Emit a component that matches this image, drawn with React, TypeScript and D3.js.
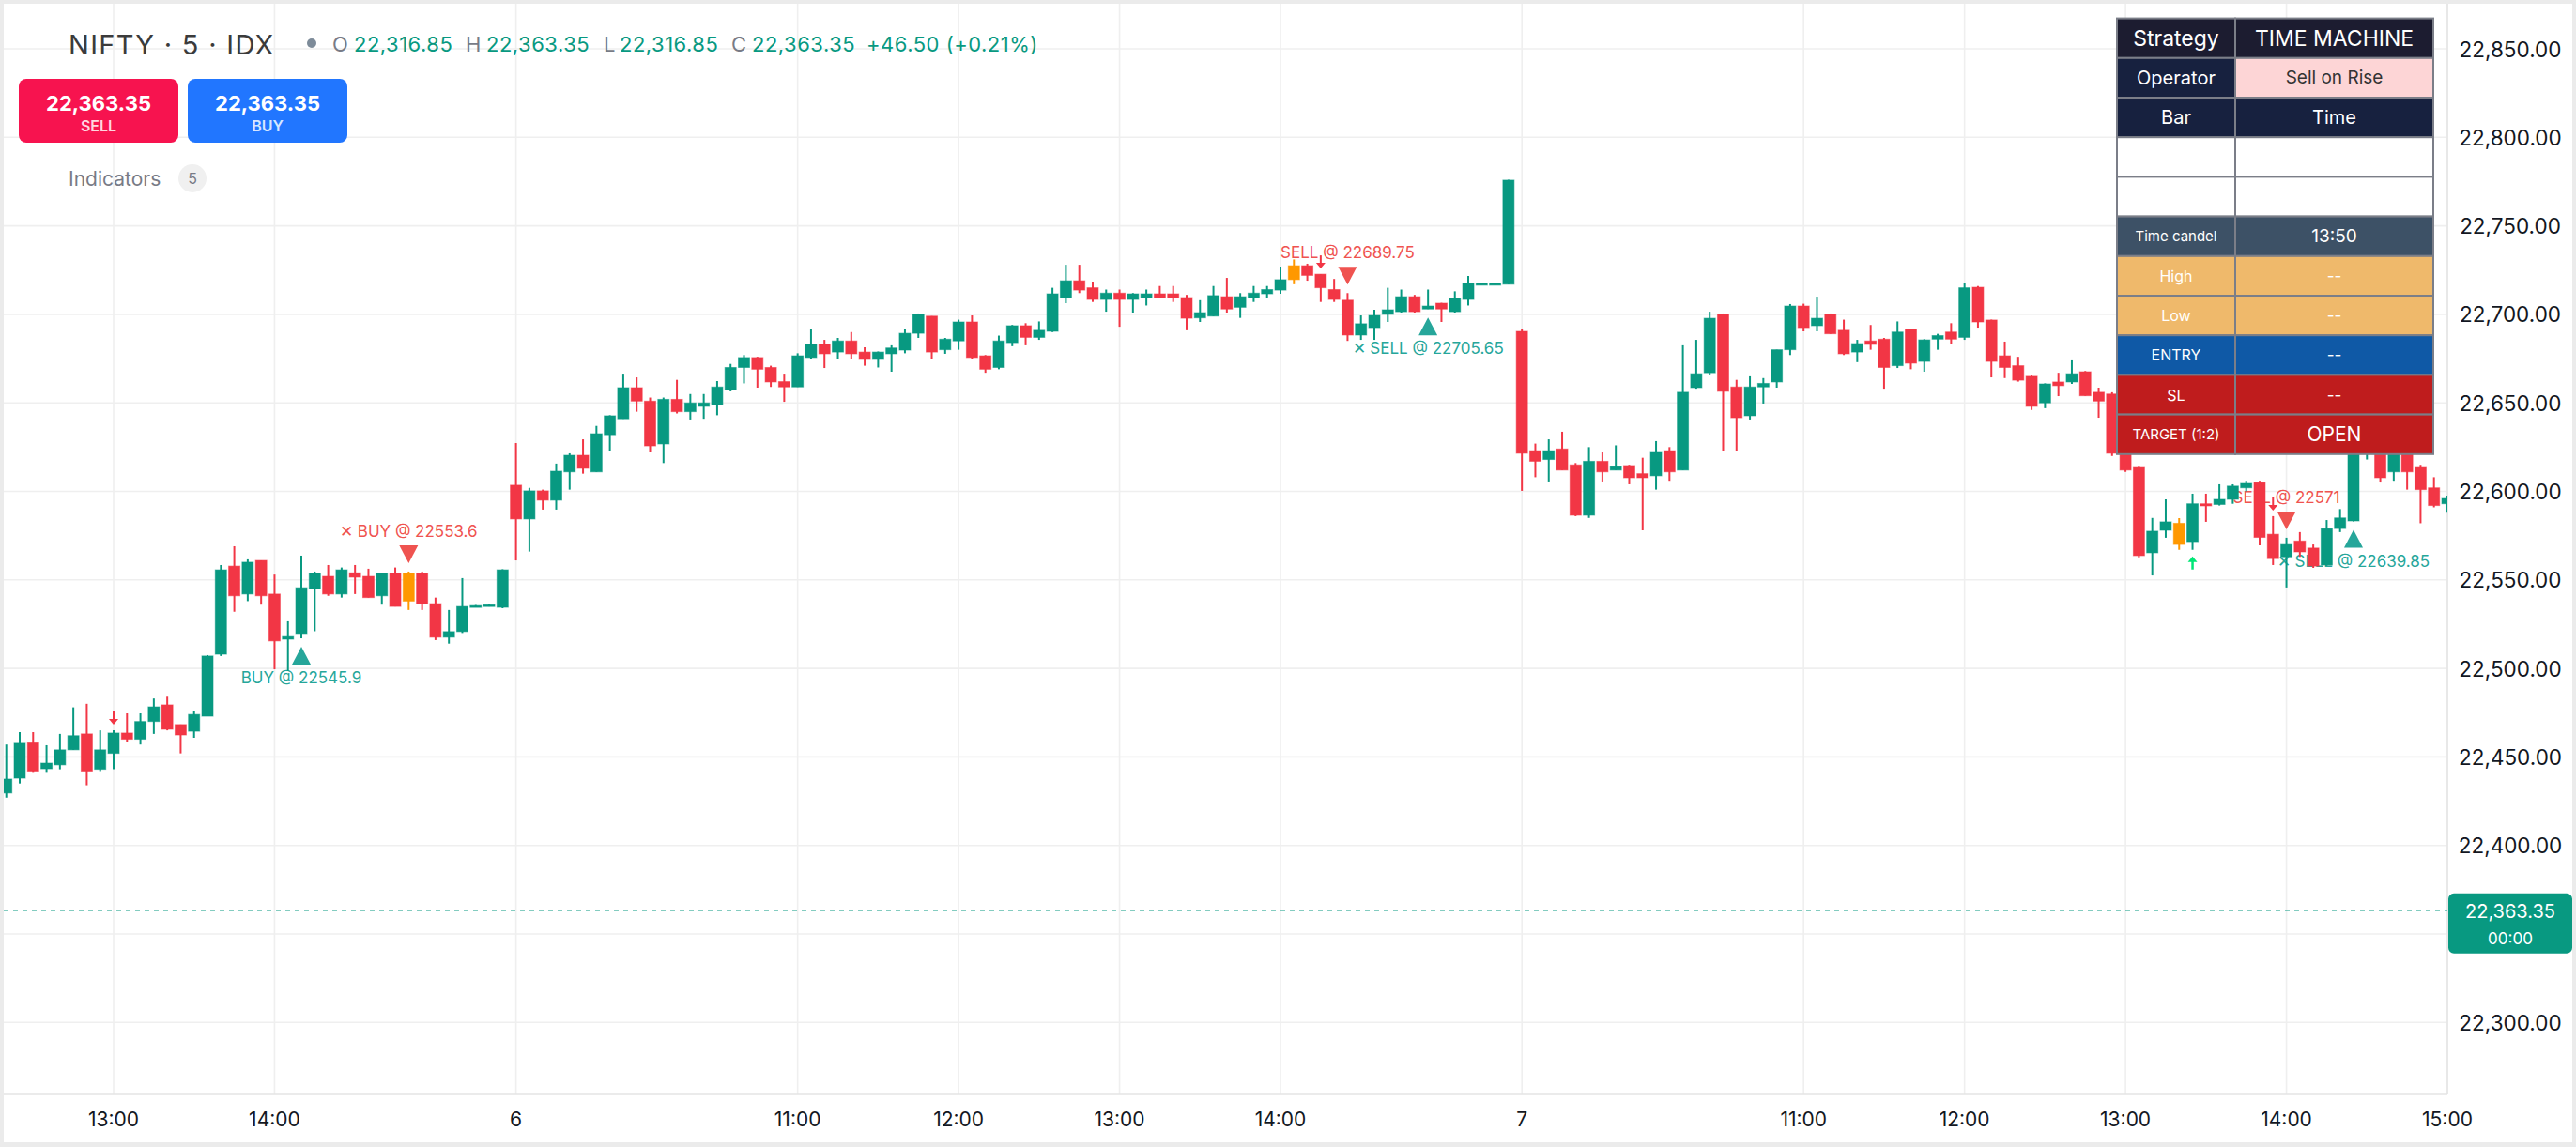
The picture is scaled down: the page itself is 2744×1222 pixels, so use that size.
import React from "react";
import * as d3 from "d3";

// 5-minute bars, first visible bar is index -8 (12:20 on day 5)
const firstBar = -8;

const opens = [
  22429.6, 22438, 22458, 22443.3, 22445.5, 22454, 22463, 22443,
  22452, 22463.5, 22460, 22470, 22479.4, 22468.3, 22464.5, 22473, 22508, 22557.8,
  22542, 22561, 22542, 22516.5, 22519.7, 22545, 22552, 22542, 22554, 22552,
  22541, 22553.6, 22538, 22553.6, 22536.6, 22517.6, 22520.8, 22535, 22535.3, 22534.5,
  22603.5, 22584.4, 22600.3, 22595, 22611, 22620.4, 22611, 22632, 22641, 22658.6,
  22651, 22626.8, 22652, 22645, 22648, 22649, 22657.5, 22670, 22675.6, 22670,
  22662, 22659, 22675.6, 22683, 22678.7, 22685, 22678.7, 22674.5, 22677.7, 22679.8,
  22689.3, 22699, 22680, 22685, 22695.7, 22676.6, 22670, 22684, 22693.6, 22687,
  22690.4, 22709.5, 22719, 22715, 22708.4, 22712, 22708.4, 22709.5, 22711.6, 22711.6,
  22709.5, 22698, 22699, 22710, 22704, 22709.5, 22711.6, 22713.7, 22719.6, 22727.5,
  22722.7, 22714, 22708, 22688.3, 22692.5, 22700, 22701.5, 22710, 22703, 22706.3,
  22701.5, 22708.4, 22717, 22717, 22717, 22690.4, 22623, 22618, 22624, 22615,
  22586.5, 22617, 22612, 22614.6, 22610, 22608.8, 22623, 22612, 22658.6, 22667,
  22700, 22659, 22642.7, 22659, 22661.8, 22680, 22704.7, 22693.6, 22700, 22691,
  22678.7, 22685, 22686, 22671, 22691.5, 22673.4, 22686, 22690, 22687, 22715.3,
  22696.8, 22676.6, 22671, 22665, 22650, 22661.8, 22661.8, 22667.6, 22656, 22655,
  22630, 22613.5, 22565.3, 22578, 22582, 22571.6, 22593, 22592.6, 22595.5, 22602,
  22605, 22575.8, 22563, 22572, 22568, 22558.4, 22579, 22583.3, 22624, 22630,
  22611, 22625, 22613.5, 22602, 22593,
];

const highs = [
  22457, 22464, 22464, 22456.6, 22463, 22478, 22480, 22465,
  22465, 22474.6, 22474.6, 22483, 22484, 22468.3, 22475.7, 22507.5, 22558.4, 22569,
  22561.6, 22561, 22553, 22526.6, 22563.7, 22554.7, 22558.4, 22557, 22558.4, 22556.3,
  22553.6, 22557, 22554.7, 22554.7, 22540, 22533, 22551, 22535.8, 22536.3, 22556,
  22627.3, 22602, 22601, 22615.7, 22621.5, 22629.4, 22637, 22643, 22666.5, 22664.4,
  22653, 22653, 22663, 22655, 22655, 22662.3, 22672, 22677, 22676, 22671,
  22666.5, 22678, 22692, 22685.6, 22686.7, 22690, 22681.4, 22679, 22682.5, 22692,
  22700.5, 22699, 22686.7, 22697, 22699.4, 22677, 22688, 22694, 22695, 22696,
  22715, 22728, 22728, 22718.5, 22714, 22714, 22712, 22714, 22716, 22716,
  22711, 22708, 22716, 22720.6, 22712, 22716, 22716, 22727, 22731, 22728.6,
  22722.7, 22720, 22712, 22699.4, 22702.6, 22715, 22714, 22711, 22714, 22706.5,
  22713, 22721.7, 22717.8, 22717.8, 22776, 22692, 22627, 22629.4, 22633.7, 22616,
  22625, 22622, 22626, 22615, 22619, 22628.4, 22625, 22682.5, 22685.6, 22701.5,
  22700.5, 22663, 22665, 22664, 22680, 22705.8, 22706, 22710, 22700.5, 22697,
  22685.6, 22694, 22686.7, 22696, 22692, 22686, 22689, 22695, 22717.5, 22716,
  22697, 22684.6, 22676, 22665.5, 22661, 22667, 22674, 22668, 22658.6, 22656,
  22635, 22614, 22585, 22595.5, 22584.9, 22598.7, 22598.7, 22604, 22604, 22606,
  22606, 22586, 22573.8, 22577, 22570, 22583.8, 22590, 22628, 22640, 22634,
  22628, 22628, 22615, 22608, 22597.6,
];

const lows = [
  22427, 22435, 22441, 22441, 22443, 22454, 22434, 22442,
  22443, 22458.7, 22457, 22463, 22465, 22452, 22460.8, 22473, 22507, 22532,
  22538, 22536, 22499.5, 22498.5, 22517, 22521, 22541, 22540, 22542, 22540,
  22536, 22535, 22533, 22533, 22516, 22514, 22520, 22534.7, 22535, 22534,
  22561, 22566, 22589.7, 22589.7, 22601, 22610, 22611, 22623, 22641, 22645,
  22622, 22616, 22644, 22640.6, 22641, 22643, 22656.5, 22661, 22658.6, 22659,
  22650.6, 22659, 22675, 22669.7, 22674.5, 22674.5, 22671, 22670, 22667.6, 22678,
  22686.7, 22675, 22677.7, 22680, 22675, 22667, 22669, 22682, 22682.5, 22685.6,
  22690, 22706.3, 22712, 22707, 22701.5, 22693, 22701, 22705, 22709, 22707,
  22691, 22695.7, 22699, 22701, 22698, 22707, 22709.5, 22711.6, 22717, 22719,
  22707, 22707, 22685, 22685.6, 22685.6, 22695.7, 22701, 22701, 22703, 22695.7,
  22701, 22705, 22716.8, 22716.8, 22717, 22600.3, 22608, 22605.6, 22612, 22586,
  22585, 22605.6, 22612, 22604, 22578, 22601, 22606, 22612, 22658, 22666,
  22623, 22623, 22640.6, 22649.6, 22658.6, 22677, 22690.4, 22690.4, 22689, 22677,
  22673, 22680, 22658, 22669.7, 22669, 22667.6, 22680, 22683, 22685.6, 22692.5,
  22664.4, 22664, 22662, 22646, 22647, 22653.8, 22660.7, 22654, 22641.6, 22620,
  22611, 22562.7, 22552.5, 22573.8, 22567, 22567, 22582.8, 22592, 22593, 22600,
  22569.5, 22558.4, 22545.7, 22563, 22556.8, 22558, 22577, 22583, 22618, 22605,
  22606, 22601, 22582, 22591, 22588,
];

const closes = [
  22437.5, 22457.7, 22442, 22446.5, 22454, 22462, 22442, 22454,
  22463.5, 22460, 22470, 22478.3, 22465.6, 22462.4, 22474, 22507, 22555.7, 22541,
  22560, 22541, 22515.5, 22518, 22545.6, 22553.6, 22542, 22555.7, 22551.5, 22540,
  22553.6, 22535, 22553.6, 22536.6, 22517.6, 22520.8, 22535, 22535.5, 22536, 22555.7,
  22584.4, 22600.3, 22595, 22611.4, 22620.4, 22613, 22632.6, 22642.7, 22658.6, 22651,
  22625.7, 22652, 22645, 22650, 22650, 22659, 22670, 22675.6, 22669, 22661.8,
  22659, 22676.6, 22683, 22677.7, 22685, 22677.7, 22674.5, 22678.7, 22681, 22689.3,
  22700, 22678.7, 22686, 22695.7, 22675.6, 22669, 22685, 22693.6, 22687, 22691,
  22711.6, 22719, 22713.7, 22708.4, 22712, 22708.4, 22711.6, 22711.6, 22709.5, 22709.5,
  22697.8, 22701, 22710.6, 22703, 22710, 22712, 22714, 22719.6, 22727.5, 22722,
  22715, 22708.4, 22688.3, 22694.7, 22699.4, 22702.6, 22710, 22701.5, 22704.7, 22703,
  22709, 22717.5, 22717.5, 22717.5, 22775.8, 22621.5, 22617, 22623, 22612, 22586.5,
  22617, 22611, 22614, 22607.7, 22607.7, 22622, 22611, 22656, 22666.5, 22697.8,
  22656.5, 22641.6, 22659, 22661, 22680, 22704.7, 22692.5, 22697.8, 22689, 22677.7,
  22683.5, 22683, 22670, 22690, 22672.4, 22685.6, 22688, 22686, 22715, 22695.7,
  22673.4, 22670, 22662.8, 22648, 22660.7, 22659.7, 22666.5, 22654, 22651, 22621.5,
  22612, 22563.7, 22577.5, 22582.8, 22570, 22593, 22591.8, 22595.5, 22603, 22604.5,
  22574, 22562, 22570, 22565.8, 22557.8, 22579, 22585, 22624, 22632, 22607.7,
  22624, 22611, 22601, 22592, 22596,
];

const highlightBars = [22, 88, 154];

const xTickBars = [0, 12, 30, 51, 63, 75, 87, 105, 126, 138, 150, 162, 174];
const xTickLabels = ["13:00", "14:00", "6", "11:00", "12:00", "13:00", "14:00", "7", "11:00", "12:00", "13:00", "14:00", "15:00"];
const yTicks = [22300, 22350, 22400, 22450, 22500, 22550, 22600, 22650, 22700, 22750, 22800, 22850];

const lastPrice = 22363.35;

const signalBars = [14, 22, 92, 98, 162, 167];
const signalSides = ["below", "above", "above", "below", "above", "below"];
const signalTexts = ["BUY @ 22545.9", "✕ BUY @ 22553.6", "SELL @ 22689.75", "✕ SELL @ 22705.65", "SELL @ 22571", "✕ SELL @ 22639.85"];

const arrowBars = [0, 90, 161, 155];
const arrowDirs = ["down", "down", "down", "up"];

const tableLeft = ["Strategy", "Operator", "Bar", "", "", "Time candel", "High", "Low", "ENTRY", "SL", "TARGET (1:2)"];
const tableRight = ["TIME MACHINE", "Sell on Rise", "Time", "", "", "13:50", "--", "--", "--", "--", "OPEN"];
const tableBgLeft = ["#1c1c30", "#17213f", "#17213f", "#ffffff", "#ffffff", "#3d5166", "#efb96b", "#efb96b", "#0f59a6", "#bf1c1d", "#bf1c1d"];
const tableBgRight = ["#1c1c30", "#fdd5d6", "#17213f", "#ffffff", "#ffffff", "#3d5166", "#efb96b", "#efb96b", "#0f59a6", "#bf1c1d", "#bf1c1d"];
const tableFontL = [23, 20, 20, 16, 16, 15, 16, 16, 16, 16, 15];
const tableFontR = [23, 19, 20, 16, 16, 19, 17, 17, 17, 17, 21];

const W = 2744, H = 1222;
const plotRight = 2607, plotBottom = 1166;
const UP = "#089981", DOWN = "#f23645", HL = "#ff9800";
const FONT = "Inter, 'Noto Sans', sans-serif";

export default function App() {
  const x = d3.scaleLinear().domain([0, 174]).range([121, 2607]);
  const y = d3.scaleLinear().domain([22300, 22850]).range([1089.3, 52]);
  const fmt = d3.format(",.2f");

  const bars = opens.map((o, k) => ({ idx: firstBar + k, o, h: highs[k], l: lows[k], c: closes[k] }));
  const byIdx = (i: number) => bars[i - firstBar];
  const bw = 12;

  // price labels hidden where the last-price badge sits
  const priceY = y(lastPrice);
  const visibleTicks = yTicks.filter((v) => Math.abs(y(v) - priceY) > 45);

  const tx = 2255, tw1 = 126, tw2 = 211, ty = 19.6, rh = 42.2;

  return (
    <div style={{ position: "fixed", left: 0, top: 0, width: W, height: H }}>
      <svg width={W} height={H} style={{ display: "block", fontFamily: FONT }}>
        <defs>
          <clipPath id="plot">
            <rect x={4} y={4} width={plotRight - 4} height={plotBottom - 4} />
          </clipPath>
        </defs>
        <rect width={W} height={H} fill="#ebebeb" />
        <rect x={4} y={4} width={2736} height={1213} fill="#ffffff" />

        {/* grid */}
        <g stroke="#efefef" strokeWidth={1.6}>
          {yTicks.map((v) => (
            <line key={v} x1={4} x2={plotRight} y1={y(v)} y2={y(v)} />
          ))}
          {xTickBars.map((b) => (
            <line key={b} x1={x(b)} x2={x(b)} y1={4} y2={plotBottom} />
          ))}
        </g>
        <line x1={plotRight} x2={plotRight} y1={4} y2={plotBottom} stroke="#e4e4e4" strokeWidth={1.5} />
        <line x1={4} x2={plotRight} y1={plotBottom} y2={plotBottom} stroke="#e4e4e4" strokeWidth={1.5} />

        {/* last price line */}
        <line x1={4} x2={plotRight} y1={priceY} y2={priceY} stroke={UP} strokeWidth={1.6} strokeDasharray="5 5" />

        <g clipPath="url(#plot)">
          {/* signal markers and labels (under candles) */}
          {signalBars.map((b, k) => {
            const bar = byIdx(b);
            const cx = x(b);
            if (signalSides[k] === "above") {
              const apex = y(bar.h) - 9;
              const top = apex - 19;
              return (
                <g key={k}>
                  <path d={`M${cx - 10},${top}L${cx + 10},${top}L${cx},${apex}Z`} fill="#ef5350" />
                  <text x={cx} y={top - 15} fill="#ef5350" fontSize={17} textAnchor="middle" dominantBaseline="central">{signalTexts[k]}</text>
                </g>
              );
            }
            const apex = y(bar.l) + 9;
            const bot = apex + 19;
            return (
              <g key={k}>
                <path d={`M${cx - 10},${bot}L${cx + 10},${bot}L${cx},${apex}Z`} fill="#26a69a" />
                <text x={cx} y={bot + 14} fill="#26a69a" fontSize={17} textAnchor="middle" dominantBaseline="central">{signalTexts[k]}</text>
              </g>
            );
          })}
          {arrowBars.map((b, k) => {
            const bar = byIdx(b);
            const cx = x(b);
            if (arrowDirs[k] === "down") {
              const tip = y(bar.h) - 6;
              return (
                <g key={k} stroke="#f23645" fill="#f23645">
                  <line x1={cx} x2={cx} y1={tip - 14} y2={tip - 4} strokeWidth={2} />
                  <path d={`M${cx - 5},${tip - 6}L${cx + 5},${tip - 6}L${cx},${tip}Z`} stroke="none" />
                </g>
              );
            }
            const tip = y(bar.l) + 7;
            return (
              <g key={k} stroke="#00e676" fill="#00e676">
                <line x1={cx} x2={cx} y1={tip + 4} y2={tip + 14} strokeWidth={2.5} />
                <path d={`M${cx - 5},${tip + 6}L${cx + 5},${tip + 6}L${cx},${tip}Z`} stroke="none" />
              </g>
            );
          })}

          {/* candles */}
          {bars.map((d) => {
            const cx = x(d.idx);
            const col = highlightBars.includes(d.idx) ? HL : d.c >= d.o ? UP : DOWN;
            const top = y(Math.max(d.o, d.c));
            const bh = Math.max(2, Math.abs(y(d.o) - y(d.c)));
            return (
              <g key={d.idx}>
                <line x1={cx} x2={cx} y1={y(d.h)} y2={y(d.l)} stroke={col} strokeWidth={2} />
                <rect x={cx - bw / 2} y={top} width={bw} height={bh} fill={col} stroke={col} strokeOpacity={0.55} strokeWidth={1} />
              </g>
            );
          })}
        </g>

        {/* right price axis */}
        {visibleTicks.map((v) => (
          <text key={v} x={2674} y={y(v)} fontSize={22.5} fill="#131722" textAnchor="middle" dominantBaseline="central">{fmt(v)}</text>
        ))}
        <rect x={2608} y={priceY - 18} width={132} height={64} rx={6} fill={UP} />
        <text x={2674} y={priceY + 1} fontSize={20} fill="#ffffff" textAnchor="middle" dominantBaseline="central">{fmt(lastPrice)}</text>
        <text x={2674} y={priceY + 30} fontSize={17} fill="#ffffff" textAnchor="middle" dominantBaseline="central">00:00</text>

        {/* time axis */}
        {xTickBars.map((b, k) => (
          <text key={b} x={x(b)} y={1192} fontSize={21} fill="#131722" textAnchor="middle" dominantBaseline="central">{xTickLabels[k]}</text>
        ))}

        {/* header legend */}
        <text x={73} y={47} fontSize={29} letterSpacing={1.3} fill="#3b3b3b" dominantBaseline="central">NIFTY · 5 · IDX</text>
        <circle cx={332} cy={46} r={5} fill="#7d8b99" />
        <g fontSize={22} letterSpacing={0.5} dominantBaseline="central">
          <text x={354} y={47} fill="#787b86">O</text>
          <text x={377} y={47} fill={UP}>22,316.85</text>
          <text x={496} y={47} fill="#787b86">H</text>
          <text x={518} y={47} fill={UP}>22,363.35</text>
          <text x={643} y={47} fill="#787b86">L</text>
          <text x={660} y={47} fill={UP}>22,316.85</text>
          <text x={779} y={47} fill="#787b86">C</text>
          <text x={801} y={47} fill={UP}>22,363.35</text>
          <text x={923} y={47} fill={UP}>+46.50 (+0.21%)</text>
        </g>

        {/* sell / buy buttons */}
        <rect x={20} y={84} width={170} height={68} rx={8} fill="#f7134f" />
        <text x={105} y={110} fontSize={22} fontWeight={700} fill="#ffffff" textAnchor="middle" dominantBaseline="central">22,363.35</text>
        <text x={105} y={134} fontSize={16} fontWeight={600} fill="#ffd6df" textAnchor="middle" dominantBaseline="central">SELL</text>
        <rect x={200} y={84} width={170} height={68} rx={8} fill="#2176ff" />
        <text x={285} y={110} fontSize={22} fontWeight={700} fill="#ffffff" textAnchor="middle" dominantBaseline="central">22,363.35</text>
        <text x={285} y={134} fontSize={16} fontWeight={600} fill="#d6e6ff" textAnchor="middle" dominantBaseline="central">BUY</text>

        <text x={73} y={190} fontSize={21} fill="#787b86" dominantBaseline="central">Indicators</text>
        <circle cx={205} cy={190} r={15} fill="#f0f0f0" />
        <text x={205} y={190} fontSize={16} fill="#787b86" textAnchor="middle" dominantBaseline="central">5</text>

        {/* strategy table */}
        <g>
          {tableLeft.map((t, r) => {
            const ry = ty + r * rh;
            const lightText = r === 1 ? "#333333" : "#ffffff";
            return (
              <g key={r}>
                <rect x={tx} y={ry} width={tw1} height={rh} fill={tableBgLeft[r]} stroke="#7b7e88" strokeWidth={2} />
                <rect x={tx + tw1} y={ry} width={tw2} height={rh} fill={tableBgRight[r]} stroke="#7b7e88" strokeWidth={2} />
                <text x={tx + tw1 / 2} y={ry + rh / 2} fontSize={tableFontL[r]} fill="#ffffff" textAnchor="middle" dominantBaseline="central">{t}</text>
                <text x={tx + tw1 + tw2 / 2} y={ry + rh / 2} fontSize={tableFontR[r]} fill={lightText} textAnchor="middle" dominantBaseline="central">{tableRight[r]}</text>
              </g>
            );
          })}
        </g>
      </svg>
    </div>
  );
}
